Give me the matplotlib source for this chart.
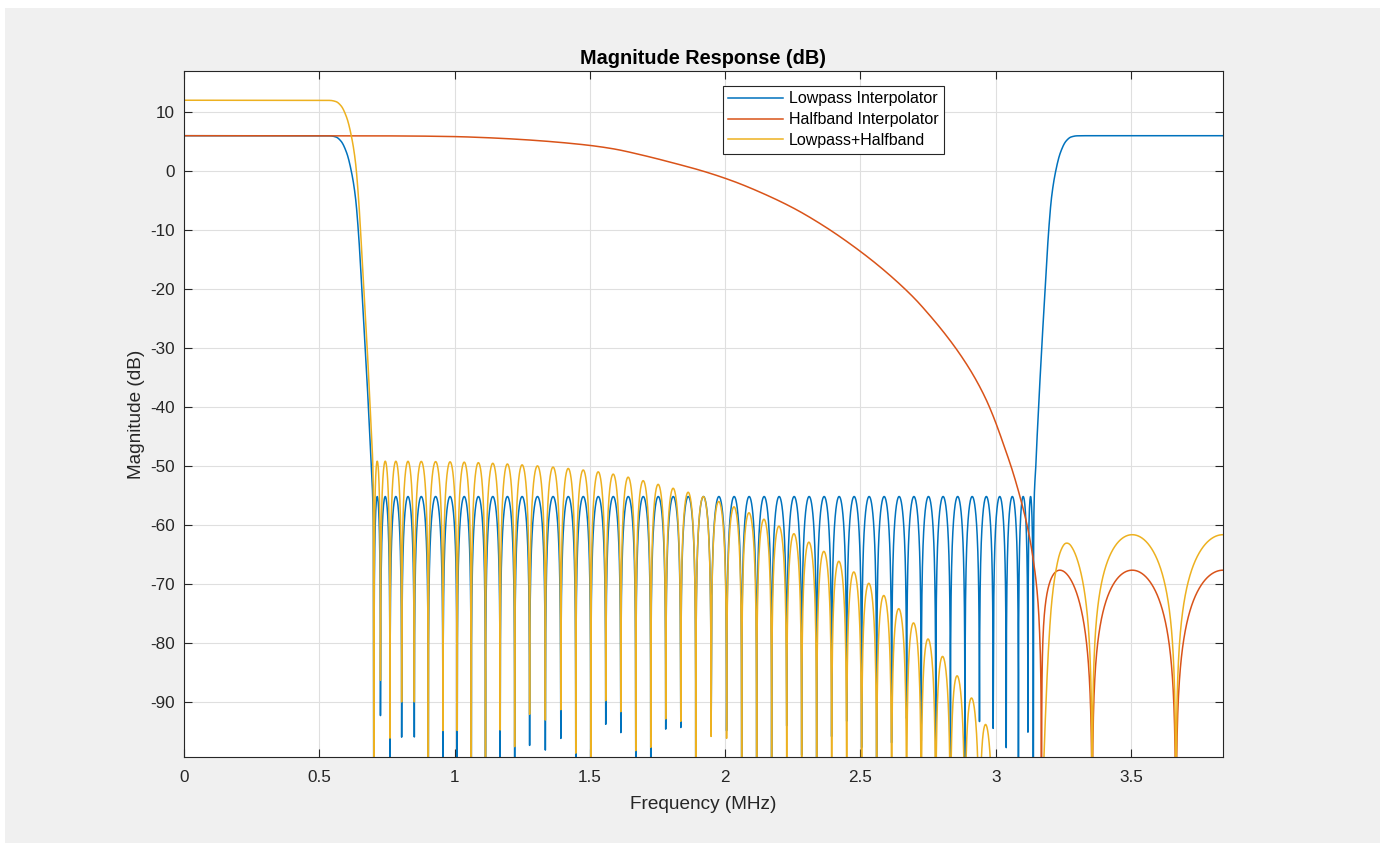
import matplotlib

matplotlib.use("Agg")
import matplotlib.pyplot as plt
import numpy as np
from matplotlib.patches import Rectangle

NULL_DB = -140.0  # stands in for a true null, far below the axis

# frequency grid of the analysis (MHz), half the output sample rate
F_MAX = 3.84
N_POINTS = 8192

# Lowpass interpolator: passband + transition (MHz, dB)
lp_left_f = [0.0, 0.50, 0.5395, 0.5617, 0.5802, 0.6013, 0.6197, 0.6338, 0.6449,
             0.6574, 0.6700, 0.6815, 0.6918, 0.6996, 0.7021]
lp_left_db = [6.02, 6.02, 6.0, 5.8, 5.1, 3.1, -0.3, -4.5, -10.5,
              -20.0, -30.0, -40.0, -50.0, -60.0, NULL_DB]

# Lowpass interpolator: stopband nulls (MHz), equiripple peaks at -55.2 dB
lp_nulls = [
    0.7021, 0.7262, 0.7613, 0.8045, 0.8511, 0.9028, 0.9571, 1.0096, 1.0617, 1.1142,
    1.1685, 1.2221, 1.2772, 1.3356, 1.3925, 1.4479, 1.5033, 1.5588, 1.6142, 1.6696,
    1.7251, 1.7805, 1.8359, 1.8914, 1.9483, 2.0055, 2.0610, 2.1164, 2.1718, 2.2273,
    2.2827, 2.3381, 2.3936, 2.4490, 2.5044, 2.5599, 2.6153, 2.6707, 2.7247, 2.7783,
    2.8326, 2.8862, 2.9398, 2.9908, 3.0388, 3.0839, 3.1190, 3.1386,
]
lp_stop_db = -55.2

# Lowpass interpolator: image passband at the top of the band
lp_right_f = [3.1386, 3.1404, 3.1482, 3.1585, 3.1700, 3.1826, 3.1951, 3.2062,
              3.2203, 3.2387, 3.2598, 3.2783, 3.3005, 3.34, 3.84]
lp_right_db = [NULL_DB, -60.0, -50.0, -40.0, -30.0, -20.0, -10.5, -4.5,
               -0.3, 3.1, 5.1, 5.8, 6.0, 6.02, 6.02]

# Halfband interpolator: main lobe down to the first null
hb_f = [0.0, 0.5, 0.8, 1.0, 1.1, 1.25, 1.476, 1.586, 1.696, 1.808, 1.919, 2.03, 2.141,
        2.254, 2.365, 2.476, 2.587, 2.698, 2.753, 2.809, 2.864, 2.917, 2.963, 2.991,
        3.033, 3.063, 3.093, 3.117, 3.139, 3.155, 3.163, 3.1675, 3.1696]
hb_db = [6.02, 6.01, 5.98, 5.87, 5.72, 5.37, 4.5, 3.8, 2.7, 1.4, 0.0, -1.7, -3.8,
         -6.3, -9.3, -12.8, -16.8, -21.5, -24.3, -27.4, -30.8, -34.6, -38.6, -41.6,
         -46.9, -51.0, -55.8, -60.3, -66.0, -72.4, -79.3, -89.3, NULL_DB]

# Halfband interpolator: stopband lobes
hb_nulls = [3.1696, 3.3566, 3.666, 4.014]
hb_peak_f = [3.237, 3.5045, 3.84]
hb_peak_db = [-67.7, -67.7, -67.7]

series_names = ["Lowpass Interpolator", "Halfband Interpolator", "Lowpass+Halfband"]
series_colors = ["#0072BD", "#D95319", "#EDB120"]

x_ticks = [0, 0.5, 1, 1.5, 2, 2.5, 3, 3.5]
x_tick_labels = ["0", "0.5", "1", "1.5", "2", "2.5", "3", "3.5"]
y_ticks = [-90, -80, -70, -60, -50, -40, -30, -20, -10, 0, 10]


def pchip(x, xp, yp):
    """Monotone cubic through the read-off points (no scipy here)."""
    xp = np.asarray(xp, float)
    yp = np.asarray(yp, float)
    h = np.diff(xp)
    d = np.diff(yp) / h
    m = np.zeros_like(yp)
    m[0], m[-1] = d[0], d[-1]
    for k in range(1, len(xp) - 1):
        if d[k - 1] * d[k] > 0:
            w1 = 2 * h[k] + h[k - 1]
            w2 = h[k] + 2 * h[k - 1]
            m[k] = (w1 + w2) / (w1 / d[k - 1] + w2 / d[k])
    i = np.clip(np.searchsorted(xp, x) - 1, 0, len(xp) - 2)
    t = (x - xp[i]) / h[i]
    return (
        (2 * t**3 - 3 * t**2 + 1) * yp[i]
        + (t**3 - 2 * t**2 + t) * h[i] * m[i]
        + (-2 * t**3 + 3 * t**2) * yp[i + 1]
        + (t**3 - t**2) * h[i] * m[i + 1]
    )


def lobes(freq, nulls, peak_db, peak_f=None):
    """Stopband arches between consecutive nulls."""
    out = np.full(freq.shape, np.nan)
    for i in range(len(nulls) - 1):
        a, b = nulls[i], nulls[i + 1]
        m = (freq >= a) & (freq < b)
        t = (freq[m] - a) / (b - a)
        if peak_f is not None:
            p = (peak_f[i] - a) / (b - a)
            t = t ** (np.log(0.5) / np.log(p))
        out[m] = peak_db[i] + 20 * np.log10(np.maximum(np.sin(np.pi * t), 1e-7))
    return out


def build_responses():
    freq = np.arange(N_POINTS) * F_MAX / N_POINTS

    lowpass = lobes(freq, lp_nulls, [lp_stop_db] * (len(lp_nulls) - 1))
    left = freq <= lp_nulls[0]
    right = freq >= lp_nulls[-1]
    lowpass[left] = pchip(freq[left], lp_left_f, lp_left_db)
    lowpass[right] = pchip(freq[right], lp_right_f, lp_right_db)

    halfband = lobes(freq, hb_nulls, hb_peak_db, hb_peak_f)
    main = freq <= hb_nulls[0]
    halfband[main] = pchip(freq[main], hb_f, hb_db)

    # cascade: gains add in dB
    cascade = lowpass + halfband
    return freq, [lowpass, halfband, cascade]


def make_chart():
    plt.rcParams["font.family"] = ["Liberation Sans", "DejaVu Sans"]
    plt.rcParams["axes.unicode_minus"] = False

    fig = plt.figure(figsize=(13.8, 8.43), dpi=100, facecolor="white")
    fig.patches.append(
        Rectangle((5 / 1380, 0), 1, 835 / 843, transform=fig.transFigure,
                  facecolor="#f0f0f0", edgecolor="none", zorder=-10)
    )
    ax = fig.add_axes([184 / 1380, 86 / 843, 1039 / 1380, 686 / 843])
    ax.set_facecolor("white")

    freq, responses = build_responses()
    for name, color, resp in zip(series_names, series_colors, responses):
        ax.plot(freq, resp, color=color, lw=1.1, label=name)

    ax.set_xlim(0, F_MAX)
    ax.set_ylim(-99.4, 17.0)
    ax.set_xticks(x_ticks)
    ax.set_xticklabels(x_tick_labels)
    ax.set_yticks(y_ticks)
    ax.grid(True, color="#dfdfdf", lw=0.8)
    ax.set_axisbelow(True)

    for spine in ax.spines.values():
        spine.set_color("#262626")
        spine.set_linewidth(0.8)
    ax.tick_params(direction="in", top=True, right=True, length=5.5, width=0.8,
                   color="#262626", labelcolor="#262626", labelsize=12.3, pad=6.5)
    ax.tick_params(axis="x", pad=9)

    ax.set_title("Magnitude Response (dB)", fontsize=14.3, fontweight="bold", pad=5)
    ax.set_xlabel("Frequency (MHz)", fontsize=13.7, color="#262626", labelpad=8.5)
    ax.set_ylabel("Magnitude (dB)", fontsize=13.7, color="#262626", labelpad=4)

    leg = ax.legend(loc="upper left", bbox_to_anchor=(0.5185, 0.9786), borderaxespad=0,
                    fontsize=11.5, handlelength=3.4, handletextpad=0.4, borderpad=0.35,
                    labelspacing=0.37, fancybox=False, framealpha=1, edgecolor="#262626")
    leg.get_frame().set_linewidth(0.8)

    fig.savefig("out.png", dpi=100, facecolor=fig.get_facecolor())
    plt.close(fig)


if __name__ == "__main__":
    make_chart()
